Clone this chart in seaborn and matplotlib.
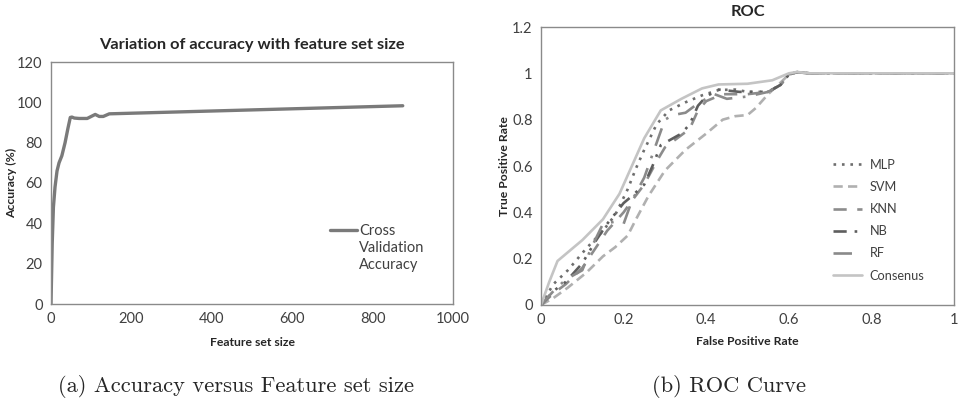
import numpy as np
import pandas as pd
import matplotlib
matplotlib.use("Agg")
import matplotlib.pyplot as plt
import seaborn as sns

# left panel: accuracy vs feature set size
feat_size = [0, 3, 6, 10, 15, 20, 27, 35, 42, 48, 52, 58, 70, 90, 100, 110, 120, 130, 145, 875]
accuracy = [0, 30, 48, 58, 66, 70, 73.5, 80, 87, 92.5, 92.7, 92.2, 92, 92, 93, 94, 93, 93, 94.3, 98.3]

# right panel: ROC curves
mlp_fpr = [0, 0.03, 0.065, 0.11, 0.15, 0.18, 0.21, 0.23, 0.25, 0.28, 0.31, 0.35, 0.39, 0.43, 0.47, 0.5, 0.55, 0.58, 0.6, 0.62, 0.65, 1.0]
mlp_tpr = [0, 0.09, 0.15, 0.245, 0.32, 0.39, 0.5, 0.59, 0.67, 0.78, 0.84, 0.875, 0.905, 0.928, 0.93, 0.92, 0.92, 0.95, 0.995, 1.005, 1.0, 1.0]
svm_fpr = [0, 0.03, 0.065, 0.11, 0.15, 0.18, 0.21, 0.23, 0.26, 0.3, 0.35, 0.4, 0.44, 0.47, 0.5, 0.52, 0.55, 0.58, 0.6, 0.62, 0.65, 1.0]
svm_tpr = [0, 0.03, 0.075, 0.14, 0.21, 0.25, 0.3, 0.37, 0.47, 0.58, 0.67, 0.74, 0.8, 0.815, 0.82, 0.85, 0.91, 0.96, 0.995, 1.005, 1.0, 1.0]
knn_fpr = [0, 0.03, 0.06, 0.1, 0.13, 0.16, 0.2, 0.22, 0.25, 0.28, 0.3, 0.33, 0.36, 0.38, 0.4, 0.44, 0.5, 0.55, 0.58, 0.6, 0.62, 0.65, 1.0]
knn_tpr = [0, 0.05, 0.09, 0.16, 0.24, 0.32, 0.4, 0.45, 0.52, 0.62, 0.68, 0.72, 0.76, 0.84, 0.88, 0.91, 0.91, 0.92, 0.95, 0.995, 1.005, 1.0, 1.0]
nb_fpr = [0, 0.03, 0.06, 0.1, 0.13, 0.16, 0.2, 0.22, 0.25, 0.27, 0.29, 0.32, 0.34, 0.36, 0.38, 0.4, 0.43, 0.48, 0.55, 0.58, 0.6, 0.62, 0.65, 1.0]
nb_tpr = [0, 0.06, 0.1, 0.18, 0.27, 0.35, 0.44, 0.47, 0.52, 0.6, 0.69, 0.72, 0.74, 0.78, 0.86, 0.9, 0.93, 0.92, 0.92, 0.95, 0.995, 1.005, 1.0, 1.0]
rf_fpr = [0, 0.03, 0.06, 0.08, 0.1, 0.12, 0.15, 0.18, 0.2, 0.22, 0.25, 0.27, 0.3, 0.32, 0.35, 0.38, 0.42, 0.45, 0.5, 0.55, 0.58, 0.6, 0.62, 0.65, 1.0]
rf_tpr = [0, 0.06, 0.11, 0.13, 0.15, 0.24, 0.35, 0.36, 0.35, 0.45, 0.55, 0.65, 0.8, 0.82, 0.83, 0.87, 0.91, 0.89, 0.9, 0.92, 0.95, 0.995, 1.005, 1.0, 1.0]
cons_fpr = [0, 0.02, 0.04, 0.07, 0.1, 0.15, 0.19, 0.22, 0.25, 0.29, 0.34, 0.39, 0.43, 0.5, 0.56, 0.6, 0.62, 0.65, 0.8, 1.0]
cons_tpr = [0, 0.1, 0.19, 0.235, 0.28, 0.37, 0.48, 0.6, 0.72, 0.84, 0.89, 0.935, 0.952, 0.955, 0.97, 1.0, 1.006, 1.0, 1.0, 1.0]

sns.set_style("white")
plt.rcParams['font.family'] = ['Lato', 'DejaVu Sans']

fig = plt.figure(figsize=(9.63, 4.03), dpi=100)
ax1 = fig.add_axes([51/963, 1 - 304/403, 402/963, 242/403])
ax2 = fig.add_axes([541/963, 1 - 305/403, 413/963, 278/403])

frame_col = "#8a8a8a"
tick_col = "#404040"
lab_col = "#262626"

# ---- left chart
sns.lineplot(x=feat_size, y=accuracy, ax=ax1, color="#7a7a7a", linewidth=2.4, label="Cross")
ax1.set_xlim(0, 1000)
ax1.set_ylim(0, 120)
ax1.set_xticks(np.arange(0, 1001, 200))
ax1.set_yticks(np.arange(0, 121, 20))
ax1.set_title("Variation of accuracy with feature set size", weight="bold", fontsize=11.8, pad=9, color=lab_col)
ax1.set_xlabel("Feature set size", weight="bold", fontsize=8.8, color=lab_col)
ax1.set_ylabel("Accuracy (%)", weight="bold", fontsize=8.8, color=lab_col)
ax1.xaxis.set_label_coords(0.5, -0.135)
ax1.yaxis.set_label_coords(-0.085, 0.5)
ax1.legend(loc="upper left", bbox_to_anchor=(0.662, 0.384), frameon=False, fontsize=10.5,
           handlelength=1.85, handletextpad=0.15, labelcolor=tick_col)
# rest of the wrapped legend label
ax1.text(0.766, 0.231, "Validation", transform=ax1.transAxes, fontsize=10.5, color=tick_col, va="center")
ax1.text(0.766, 0.161, "Accuracy", transform=ax1.transAxes, fontsize=10.5, color=tick_col, va="center")

# ---- right chart
roc = [
    ("MLP", mlp_fpr, mlp_tpr, "#6e6e6e", (0, (1, 2.2)), 1.9),
    ("SVM", svm_fpr, svm_tpr, "#b0b0b0", (0, (3.5, 2)), 1.9),
    ("KNN", knn_fpr, knn_tpr, "#8c8c8c", (0, (5, 4)), 1.9),
    ("NB", nb_fpr, nb_tpr, "#5e5e5e", (0, (5, 3, 1, 3, 1, 3)), 1.9),
    ("RF", rf_fpr, rf_tpr, "#8a8a8a", (0, (7, 4, 1, 4)), 1.9),
    ("Consenus", cons_fpr, cons_tpr, "#c4c4c4", "-", 1.9),
]
for name, fx, fy, col, ls, lw in roc:
    sns.lineplot(x=fx, y=fy, ax=ax2, color=col, linestyle=ls, linewidth=lw, label=name)

ax2.set_xlim(0, 1)
ax2.set_ylim(0, 1.2)
ax2.set_xticks(np.arange(0, 1.01, 0.2))
ax2.set_xticklabels(["0", "0.2", "0.4", "0.6", "0.8", "1"])
ax2.set_yticks(np.arange(0, 1.21, 0.2))
ax2.set_yticklabels(["0", "0.2", "0.4", "0.6", "0.8", "1", "1.2"])
ax2.set_title("ROC", weight="bold", fontsize=11.8, pad=8, color=lab_col)
ax2.set_xlabel("False Positive Rate", weight="bold", fontsize=8.8, color=lab_col)
ax2.set_ylabel("True Positive Rate", weight="bold", fontsize=8.8, color=lab_col)
ax2.xaxis.set_label_coords(0.5, -0.112)
ax2.yaxis.set_label_coords(-0.075, 0.5)
ax2.legend(loc="upper left", bbox_to_anchor=(0.678, 0.568), frameon=False, fontsize=9.2,
           handlelength=2.3, handletextpad=0.6, labelspacing=0.8, labelcolor=tick_col)

for ax in (ax1, ax2):
    for s in ax.spines.values():
        s.set_color(frame_col)
        s.set_linewidth(1)
    ax.tick_params(length=0, labelsize=10.5, labelcolor=tick_col, pad=6)

# captions below the panels
fig.text(236/963, 1 - 386/403, "(a) Accuracy versus Feature set size", family="cmr10",
         fontsize=16.2, ha="center", va="center")
fig.text(729/963, 1 - 386/403, "(b) ROC Curve", family="cmr10",
         fontsize=16.2, ha="center", va="center")

fig.savefig("out.png", dpi=100)
